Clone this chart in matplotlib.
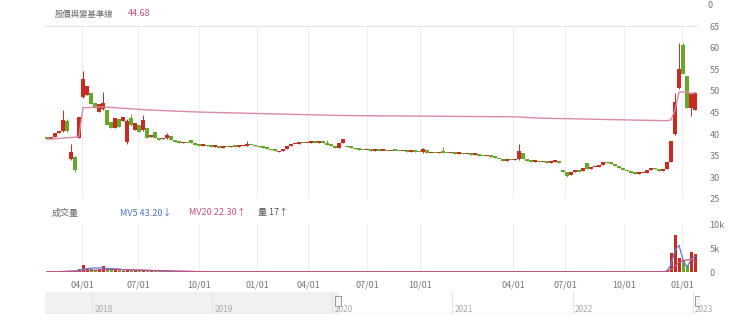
import numpy as np
import matplotlib
matplotlib.use("Agg")
import matplotlib.pyplot as plt

plt.rcParams['font.family'] = ['Noto Sans CJK TC', 'DejaVu Sans']

UP = "#c92a22"
DOWN = "#66a82a"
BASE = "#d98ba4"
GRID = "#eeeeee"
TXT = "#777777"

# candle opens / closes, one bar per ~week (price, TWD)
opens = [
    39.2, 38.9, 39.3, 40.2, 40.8, 43.0, 34.3, 34.8, 39.0, 48.5,
    49.0, 49.5, 47.2, 45.2, 45.8, 45.5, 42.7, 41.5, 43.5, 43.0,
    38.2, 43.8, 41.0, 42.0, 41.0, 41.4, 39.3, 40.6, 39.0, 38.8,
    39.0, 39.6, 38.5, 38.3, 37.9, 38.0, 38.6, 38.0, 37.6, 37.3,
    37.4, 37.2, 37.1, 37.2, 36.9, 37.1, 37.0, 37.2, 37.1, 37.2,
    37.3, 37.6, 37.4, 37.2, 37.0, 36.9, 36.6, 36.3, 35.8, 36.2,
    36.6, 37.3, 37.7, 37.8, 38.0, 37.9, 38.0, 38.1, 38.0, 38.2,
    38.0, 37.6, 37.3, 36.8, 37.9, 37.2, 37.0, 36.8, 36.5, 36.4,
    36.3, 36.4, 36.2, 36.3, 36.1, 36.2, 36.0, 36.2, 36.1, 36.0,
    36.1, 35.9, 36.0, 35.9, 35.8, 36.4, 35.6, 35.7, 35.6, 35.8,
    35.7, 35.6, 35.7, 35.5, 35.6, 35.4, 35.4, 35.2, 35.3, 35.0,
    34.9, 35.0, 34.8, 34.3, 34.0, 33.8, 34.1, 34.0, 34.2, 35.6,
    34.2, 33.8, 33.6, 33.7, 33.5, 33.6, 33.4, 33.6, 33.7, 31.7,
    31.2, 30.6, 31.2, 31.6, 31.4, 33.3, 32.0, 32.3, 32.5, 32.9,
    33.5, 33.3, 33.1, 32.7, 32.2, 31.8, 31.4, 31.0, 30.8, 30.9,
    31.1, 31.6, 32.2, 31.9, 31.4, 32.0, 33.5, 40.0, 50.6, 60.5,
    53.5, 46.0, 45.5,
]
closes = [
    38.9, 39.3, 40.2, 40.8, 43.2, 40.8, 35.8, 31.8, 44.0, 52.8,
    51.2, 47.0, 46.0, 47.0, 47.2, 42.2, 41.4, 43.8, 41.6, 44.0,
    43.0, 42.0, 42.5, 40.6, 43.2, 39.2, 39.9, 39.1, 38.7, 39.0,
    39.9, 38.6, 38.2, 37.9, 38.1, 37.9, 38.0, 37.6, 37.3, 37.4,
    37.2, 37.1, 37.2, 36.9, 37.1, 37.0, 37.2, 37.1, 37.2, 37.3,
    37.6, 37.4, 37.2, 37.0, 36.9, 36.6, 36.3, 36.1, 36.2, 36.6,
    37.3, 37.7, 37.8, 38.0, 37.9, 38.0, 38.1, 38.0, 38.2, 38.0,
    37.6, 37.3, 36.7, 37.9, 38.8, 37.0, 36.8, 36.5, 36.4, 36.3,
    36.4, 36.2, 36.3, 36.1, 36.2, 36.0, 36.2, 36.1, 36.0, 36.1,
    35.9, 36.0, 35.9, 35.8, 36.6, 35.6, 35.7, 35.6, 35.8, 35.7,
    35.6, 35.7, 35.5, 35.6, 35.4, 35.4, 35.2, 35.3, 35.0, 34.9,
    35.0, 34.8, 34.5, 34.2, 33.8, 34.1, 34.0, 34.3, 36.0, 34.2,
    33.8, 33.6, 33.7, 33.5, 33.6, 33.4, 33.6, 33.9, 33.3, 31.3,
    30.4, 31.2, 31.6, 31.3, 32.2, 32.0, 32.3, 32.5, 32.9, 33.5,
    33.3, 33.1, 32.7, 32.2, 31.8, 31.4, 31.0, 30.8, 30.9, 31.1,
    31.6, 32.2, 31.9, 31.4, 32.0, 33.5, 38.5, 47.5, 55.0, 54.0,
    46.0, 49.5, 49.5,
]
# wicks that reach past the candle body: index -> (low, high)
wicks = {
    4: (40.6, 45.5), 5: (40.5, 43.5), 6: (34.0, 37.8), 7: (31.3, 35.0),
    9: (48.3, 54.5), 14: (45.5, 49.8), 20: (37.8, 43.4), 21: (41.8, 44.6),
    24: (40.8, 44.5), 30: (38.9, 40.3), 50: (37.2, 38.3), 70: (37.5, 38.6),
    94: (35.7, 36.9), 99: (35.6, 37.0), 118: (34.1, 37.8), 130: (30.0, 31.3),
    157: (39.8, 49.6), 158: (50.4, 61.0), 159: (53.8, 61.0), 161: (44.2, 49.8),
}

# base line (pink) breakpoints: bar index, price
base_idx = [0, 7, 8, 9, 14, 25, 38, 51, 74, 117, 123, 155, 156, 157, 158, 160, 161, 162]
base_val = [38.8, 39.3, 39.5, 46.1, 46.3, 45.6, 45.1, 44.8, 44.3, 44.0, 43.7, 43.1,
            43.3, 45.5, 49.7, 49.8, 49.3, 49.6]

# volume (thousand shares) and its moving averages
volume = [
    0.05, 0.05, 0.08, 0.10, 0.30, 0.25, 0.20, 0.30, 0.60, 1.50,
    0.90, 0.70, 0.50, 0.60, 1.20, 0.70, 0.50, 0.40, 0.40, 0.30,
    0.50, 0.30, 0.30, 0.25, 0.40, 0.25, 0.20, 0.20, 0.15, 0.15,
    0.20, 0.12, 0.10, 0.10, 0.08, 0.08, 0.10, 0.08, 0.06, 0.06,
] + [0.04] * 78 + [0.30] + [0.04] * 10 + [0.15, 0.15] + [0.04] * 24 + [
    0.40, 4.00, 7.80, 3.00, 2.20, 1.50, 4.20, 3.80,
]
mv5 = [
    0.05, 0.05, 0.06, 0.07, 0.12, 0.16, 0.19, 0.23, 0.33, 0.59,
    0.70, 0.80, 0.84, 0.84, 0.88, 0.74, 0.70, 0.68, 0.64, 0.46,
    0.42, 0.38, 0.36, 0.33, 0.35, 0.30, 0.28, 0.26, 0.24, 0.19,
    0.18, 0.16, 0.14, 0.13, 0.12, 0.10, 0.09, 0.09, 0.08, 0.07,
] + [0.05] * 78 + [0.10] + [0.05] * 10 + [0.08, 0.08] + [0.05] * 24 + [
    0.20, 1.50, 4.50, 5.60, 2.50, 1.00, 2.60, 3.30,
]
mv20 = [
    0.05, 0.05, 0.05, 0.06, 0.08, 0.10, 0.12, 0.14, 0.18, 0.25,
    0.30, 0.35, 0.38, 0.40, 0.45, 0.48, 0.50, 0.50, 0.50, 0.49,
    0.48, 0.46, 0.44, 0.42, 0.40, 0.38, 0.35, 0.33, 0.30, 0.28,
    0.25, 0.22, 0.20, 0.18, 0.16, 0.14, 0.12, 0.10, 0.09, 0.08,
] + [0.05] * 115 + [
    0.10, 0.50, 1.20, 2.00, 2.40, 2.50, 2.60, 2.30,
]

tick_pos = [8.75, 22.75, 38, 52.5, 65.25, 80, 93.25, 116.5, 129.5, 144.25, 158.75]
tick_lab = ["04/01", "07/01", "10/01", "01/01", "04/01", "07/01", "10/01",
            "04/01", "07/01", "10/01", "01/01"]
price_ticks = [25, 30, 35, 40, 45, 50, 55, 60, 65]
years = [2018, 2019, 2020, 2021, 2022, 2023]

fig = plt.figure(figsize=(7.4, 3.29), dpi=100)
W, H = 740.0, 329.0


def box(l, t, r, b):
    return [l / W, 1 - b / H, (r - l) / W, (b - t) / H]


idx = np.arange(len(closes))
o = np.array(opens)
c = np.array(closes)
up = c >= o
cols = np.where(up, UP, DOWN)
lo = np.minimum(o, c)
hi = np.maximum(o, c)
for k, (l, h) in wicks.items():
    lo[k], hi[k] = l, h

# ---- price panel
ax = fig.add_axes(box(45, 26, 697, 199))
ax.vlines(idx, lo, hi, colors=cols, lw=0.7, zorder=2)
ax.bar(idx, np.maximum(np.abs(c - o), 0.35), bottom=np.minimum(o, c), width=0.85,
       color=cols, zorder=3, linewidth=0)
ax.plot(base_idx, base_val, color=BASE, lw=1.0, zorder=4)
ax.set_xlim(-0.5, len(closes) - 0.5)
ax.set_ylim(25, 65)
ax.set_xticks(tick_pos)
ax.set_xticklabels([])
ax.set_yticks(price_ticks)
ax.yaxis.tick_right()
ax.tick_params(axis="y", length=0, labelsize=6.5, labelcolor=TXT, pad=9)
ax.tick_params(axis="x", length=0)
ax.grid(axis="x", color=GRID, lw=0.8)
for s in ax.spines.values():
    s.set_visible(False)
ax.axhline(65, color="#e6e6e6", lw=0.8, clip_on=False)

fig.text(55 / W, 1 - 14 / H, "股價與變基準線", fontsize=6, color="#666666", va="center")
fig.text(128 / W, 1 - 14 / H, "44.68", fontsize=6.5, color="#c8507a", va="center")
fig.text(707 / W, 1 - 5 / H, "0", fontsize=6.5, color=TXT, va="center")

# ---- volume panel
fig.text(52 / W, 1 - 213 / H, "成交量", fontsize=6.5, color="#666666", va="center")
fig.text(120 / W, 1 - 213 / H, "MV5 43.20↓", fontsize=6.5, color="#4d74c4", va="center")
fig.text(189 / W, 1 - 213 / H, "MV20 22.30↑", fontsize=6.5, color="#c8507a", va="center")
fig.text(258 / W, 1 - 213 / H, "量 17↑", fontsize=6.5, color="#555555", va="center")

axv = fig.add_axes(box(45, 224, 697, 272))
axv.bar(idx, volume, width=0.75, color=cols, linewidth=0, zorder=2)
axv.plot(idx, mv5, color="#5a7fd0", lw=0.9, zorder=3)
axv.plot(idx, mv20, color="#c8507a", lw=0.9, zorder=3)
axv.set_xlim(-0.5, len(closes) - 0.5)
axv.set_ylim(0, 10)
axv.set_yticks([0, 5, 10])
axv.set_yticklabels(["0", "5k", "10k"])
axv.yaxis.tick_right()
axv.tick_params(axis="y", length=0, labelsize=6.5, labelcolor=TXT, pad=9)
axv.set_xticks(tick_pos)
axv.set_xticklabels(tick_lab)
axv.tick_params(axis="x", length=0, labelsize=6.5, labelcolor=TXT, pad=6)
axv.grid(axis="x", color=GRID, lw=0.8)
for s in axv.spines.values():
    s.set_visible(False)

# ---- navigator
axn = fig.add_axes(box(45, 292, 700, 314))
axn.set_xlim(2017.61, 2023.06)
axn.set_ylim(0, 1)
axn.axvspan(2017.61, 2020.05, color="#f1f1f1", zorder=0)
for yr in years:
    axn.axvline(yr, color="#e4e4e4", lw=0.8, zorder=1)
    axn.text(yr + 0.02, 0.2, str(yr), fontsize=6, color="#aaaaaa", va="center")
axn.axhline(0, color="#dddddd", lw=1.0)
for hx in [2020.05, 2023.04]:
    axn.add_patch(plt.Rectangle((hx - 0.025, 0.35), 0.05, 0.45, facecolor="#f4f4f4",
                                edgecolor="#999999", lw=0.7, zorder=3))
axn.set_xticks([])
axn.set_yticks([])
for s in axn.spines.values():
    s.set_visible(False)

fig.savefig("out.png", dpi=100)
